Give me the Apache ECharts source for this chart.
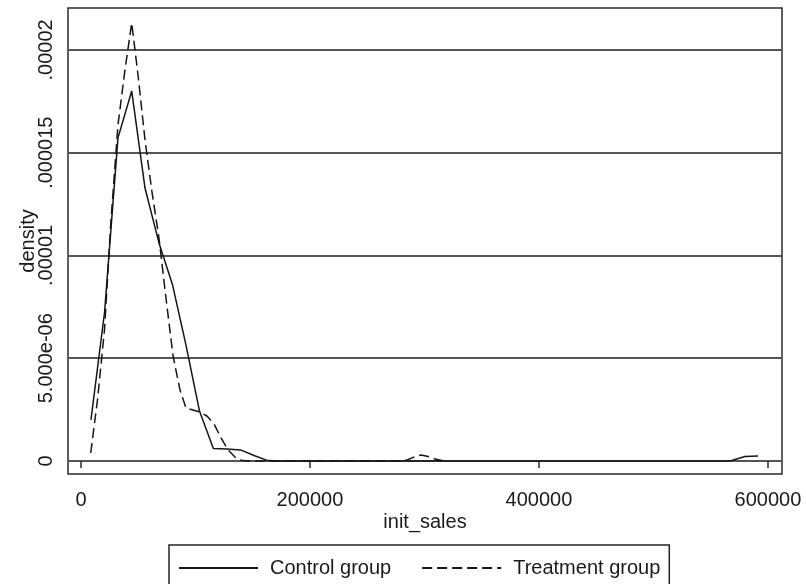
<!DOCTYPE html>
<html lang="en">
<head>
    <meta charset="UTF-8">
    <title>kdensity init_sales</title>
    <script src="https://cdn.jsdelivr.net/npm/echarts@6/dist/echarts.min.js"></script>
    <style>
        html, body { margin: 0; padding: 0; background: #fff; }
    </style>
</head>
<body>
<div id="myChart" style="width: 806px;height:584px;"></div>
<script type="text/javascript">
    // Control group (solid line) - density of init_sales
    var controlX = [8700, 20600, 32300, 44300, 55900, 68100, 80000, 91700, 103500, 115600,
        127500, 139300, 151100, 163200, 175000, 566000, 568300, 579900, 591300];
    var controlY = [2.0e-6, 7.25e-6, 1.572e-5, 1.800e-5, 1.328e-5, 1.061e-5, 8.56e-6, 5.64e-6, 2.43e-6, 6.1e-7,
        5.8e-7, 5.4e-7, 2.7e-7, 2e-8, 0, 0, 2e-8, 2.2e-7, 2.4e-7];

    // Treatment group (dashed line)
    var treatX = [8500, 14400, 20500, 26200, 32300, 38400, 44300, 49800, 55900, 62000,
        68100, 74200, 80400, 86500, 91700, 97800, 103900, 110000, 116200, 122300,
        128400, 134500, 140600, 150000, 278600, 284700, 290800, 297000, 303100, 309200, 316200];
    var treatY = [3.9e-7, 2.97e-6, 6.37e-6, 1.173e-5, 1.635e-5, 1.903e-5, 2.131e-5, 1.878e-5, 1.562e-5, 1.309e-5,
        1.085e-5, 7.93e-6, 5.11e-6, 3.45e-6, 2.58e-6, 2.48e-6, 2.38e-6, 2.19e-6, 1.80e-6, 1.12e-6,
        5.4e-7, 1.9e-7, 2e-8, 0, 0, 5e-8, 1.9e-7, 2.9e-7, 2.2e-7, 1e-7, 1e-8];

    var xTickValues = [0, 200000, 400000, 600000];
    var xTickLabels = ["0", "200000", "400000", "600000"];
    var yTickValues = [0, 5e-6, 1e-5, 1.5e-5, 2e-5];
    var yTickLabels = ["0", "5.000e-06", ".00001", ".000015", ".00002"];

    function pairs(xs, ys) {
        var out = [];
        for (var i = 0; i < xs.length; i++) {
            out.push([xs[i], ys[i]]);
        }
        return out;
    }

    // look up the label text for a tick value
    function lookup(v, values, labels, eps) {
        for (var i = 0; i < values.length; i++) {
            if (Math.abs(v - values[i]) < eps) return labels[i];
        }
        return "";
    }

    var font = "'Liberation Sans', Arial, sans-serif";
    var myChart = echarts.init(document.getElementById('myChart'), null, {renderer: 'canvas'});
    var option = {
        animation: false,
        backgroundColor: '#fff',
        textStyle: {fontFamily: font, color: '#1a1a1a'},
        grid: {
            left: 68, right: 24, top: 8, bottom: 110,
            show: true, borderColor: '#2a2a2a', borderWidth: 1.5, backgroundColor: '#fff'
        },
        legend: {
            left: 169, top: 545,
            padding: [12, 9, 12, 9],
            itemGap: 30,
            itemWidth: 79, itemHeight: 14,
            borderColor: '#222', borderWidth: 1.5,
            itemStyle: {color: 'transparent', borderWidth: 0},
            textStyle: {fontFamily: font, fontSize: 20, color: '#1a1a1a', lineHeight: 22, padding: [0, 0, 0, 7]},
            data: ['Control group', 'Treatment group']
        },
        xAxis: {
            type: 'value',
            min: -11354, max: 612250,
            name: 'init_sales',
            nameLocation: 'middle',
            nameGap: 38,
            nameMoveOverlap: false,
            nameTextStyle: {fontFamily: font, fontSize: 20, color: '#1a1a1a'},
            axisLine: {show: false},
            axisTick: {show: true, length: 7, customValues: xTickValues, lineStyle: {color: '#2a2a2a', width: 1.5}},
            axisLabel: {
                customValues: xTickValues, margin: 16, fontFamily: font, fontSize: 20, color: '#1a1a1a',
                formatter: function (v) { return lookup(v, xTickValues, xTickLabels, 1); }
            },
            splitLine: {show: false}
        },
        yAxis: {
            type: 'value',
            min: -6.33e-7, max: 2.204e-5,
            name: 'density',
            nameLocation: 'middle',
            nameGap: 30,
            nameMoveOverlap: false,
            nameTextStyle: {fontFamily: font, fontSize: 20, color: '#1a1a1a'},
            axisLine: {show: false},
            axisTick: {show: true, length: 8, customValues: yTickValues, lineStyle: {color: '#555', width: 2}},
            axisLabel: {
                customValues: yTickValues, rotate: 90, margin: 12,
                fontFamily: font, fontSize: 20, color: '#1a1a1a',
                formatter: function (v) { return lookup(v, yTickValues, yTickLabels, 1e-9); }
            },
            splitLine: {show: true, lineStyle: {color: '#555', width: 2}}
        },
        series: [
            {
                name: 'Control group',
                type: 'line',
                symbol: 'none',
                data: pairs(controlX, controlY),
                lineStyle: {color: '#151515', width: 1.5, type: 'solid'},
                itemStyle: {color: '#151515'},
                z: 3
            },
            {
                name: 'Treatment group',
                type: 'line',
                symbol: 'none',
                data: pairs(treatX, treatY),
                lineStyle: {color: '#151515', width: 1.5, type: [10, 5]},
                itemStyle: {color: '#151515'},
                z: 3
            }
        ]
    };
    myChart.setOption(option);
</script>
</body>
</html>
